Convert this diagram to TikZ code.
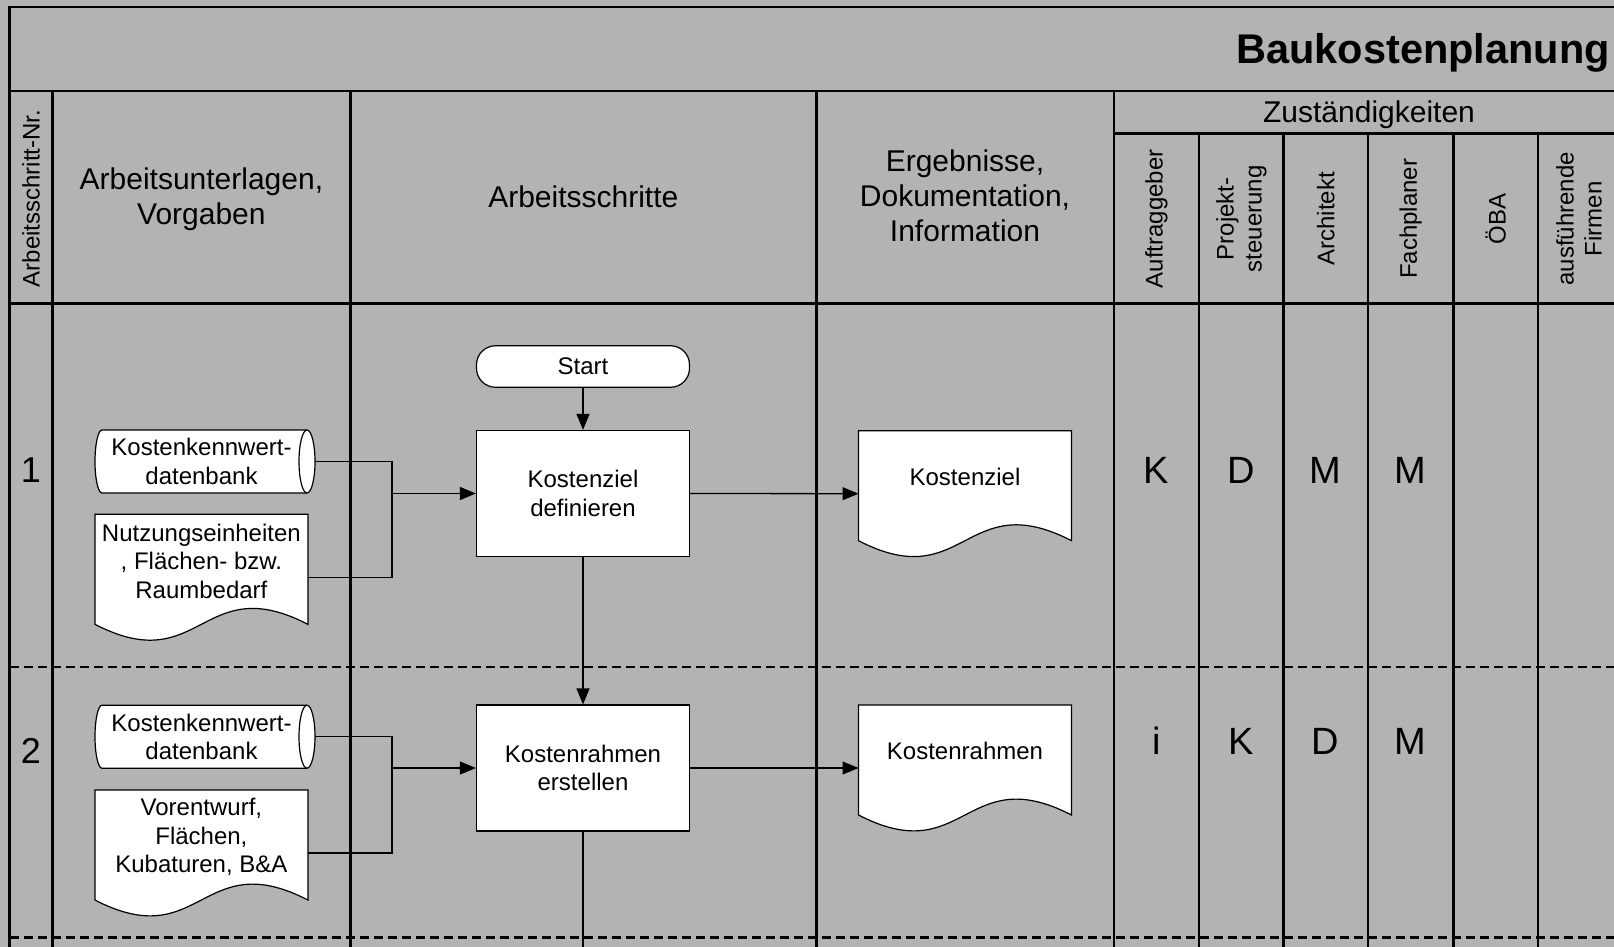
\documentclass[tikz,border=0pt]{standalone}
\usepackage{fontspec}
\setmainfont{Liberation Sans}
\usetikzlibrary{arrows.meta,calc}

\definecolor{sheetgray}{RGB}{179,179,179}

\tikzset{
  grid/.style={line width=2.7pt},
  rowsep/.style={line width=2.4pt, dash pattern=on 9.5pt off 4.5pt},
  flow/.style={line width=1.3pt},
  arr/.style={flow, -{Triangle[length=16pt,width=13pt]}},
  txt/.style={font=\fontsize{24}{28.5}\selectfont, align=center, inner sep=0pt},
  head/.style={font=\fontsize{30}{35}\selectfont, align=center, inner sep=0pt},
  colhead/.style={font=\fontsize{24}{28}\selectfont, align=center, inner sep=0pt, rotate=90},
  resp/.style={font=\fontsize{38}{40}\selectfont, inner sep=0pt},
  rownum/.style={font=\fontsize{36}{40}\selectfont, inner sep=0pt},
  process/.style={draw, fill=white, line width=1.2pt, minimum width=213pt, minimum height=126pt, txt},
  terminal/.style={draw, fill=white, line width=1.2pt, rounded corners=19pt, minimum width=213pt, minimum height=41.5pt, txt},
  docframe/.style={minimum width=213pt, minimum height=126pt, inner sep=0pt, outer sep=0pt},
  drumframe/.style={minimum width=220pt, minimum height=63pt, inner sep=0pt, outer sep=0pt},
  outline/.style={draw, fill=white, line width=1.2pt},
}

% document symbol: straight top and sides, wavy bottom edge
\newcommand\docoutline[1]{%
  \path[outline] (#1.north west) -- (#1.north east) -- ($(#1.south east)+(0,-16)$)
    .. controls ($(#1.south)+(0,-71)$) and ($(#1.south)+(0,39)$) .. ($(#1.south west)+(0,-16)$)
    -- cycle;}

% horizontal drum (data base) symbol
\newcommand\drumoutline[1]{%
  \path[outline] ($(#1.north west)+(7,0)$) -- ($(#1.north east)+(-8,0)$)
    arc[start angle=90, end angle=-90, x radius=8pt, y radius=31.5pt]
    -- ($(#1.south west)+(7,0)$)
    arc[start angle=270, end angle=90, x radius=7pt, y radius=31.5pt] -- cycle;
  \draw[line width=1.2pt] ($(#1.north east)+(-8,0)$)
    arc[start angle=90, end angle=270, x radius=8pt, y radius=31.5pt];}

\begin{document}
\begin{tikzpicture}[x=1pt, y=-1pt]
  \useasboundingbox (0,0) rectangle (1614,947);
  \fill[sheetgray] (0,0) rectangle (1614,947);
  \clip (0,0) rectangle (1614,947);

  % ---- table frame ----
  \draw[grid] (9.5,960) -- (9.5,7) -- (1630,7);
  \draw[grid] (9.5,91) -- (1630,91);
  \draw[grid] (9.5,303.7) -- (1630,303.7);
  \foreach \cx in {52.5,350.3,816.3,1114}
    \draw[grid] (\cx,91) -- (\cx,960);
  \draw[grid] (1114,133.7) -- (1630,133.7);
  \foreach \cx in {1199.1,1283.5,1368,1453.4,1538}
    \draw[grid] (\cx,133.7) -- (\cx,960);
  \draw[rowsep] (9.5,667) -- (1630,667);
  \draw[rowsep] (9.5,937.5) -- (1630,937.5);

  % ---- headings ----
  \node[font=\fontsize{41.5}{48}\selectfont\bfseries, anchor=base east, inner sep=0pt] (title) at (1610,64) {Baukostenplanung};
  \node[colhead] (hnr) at (31,198.5) {Arbeitsschritt-Nr.};
  \node[head] (hin) at (201.4,199) {Arbeitsunterlagen,\\Vorgaben};
  \node[head] (hsteps) at (583.3,197) {Arbeitsschritte};
  \node[head] (hout) at (965,195.6) {Ergebnisse,\\Dokumentation,\\Information};
  \node[head] (hresp) at (1369,115) {Zuständigkeiten};
  \node[colhead] (hag) at (1156.5,218.7) {Auftraggeber};
  \node[colhead] (hps) at (1241.3,218.7) {Projekt-\\steuerung};
  \node[colhead] (har) at (1325.7,218.7) {Architekt};
  \node[colhead] (hfp) at (1410.7,218.7) {Fachplaner};
  \node[colhead] (hoe) at (1495.7,218.7) {ÖBA};
  \node[colhead] (hfi) at (1579,218.7) {ausführende\\Firmen};

  % ---- step 1 ----
  \node[rownum] (n1) at (31,470.4) {1};
  \node[terminal] (start) at (583,366.5) {Start};
  \node[process] (box1) at (583,493.5) {Kostenziel\\definieren};

  \node[drumframe] (db1) at (205,461.5) {};
  \drumoutline{db1}
  \node[txt] (db1t) at ($(db1.center)+(-3.5,0)$) {Kostenkennwert-\\datenbank};

  \node[docframe] (nd1) at (201.4,577.3) {};
  \docoutline{nd1}
  \node[txt] (nd1t) at ($(nd1.north)+(0,47)$) {Nutzungseinheiten\\, Flächen- bzw.\\Raumbedarf};

  \node[docframe] (kz) at (965,493.7) {};
  \docoutline{kz}
  \node[txt] (kzt) at ($(kz.north)+(0,46)$) {Kostenziel};

  \coordinate (j1) at (392,0);
  \draw[flow] (db1.east) -| (j1 |- nd1.east) -- (nd1.east);
  \draw[arr] (j1 |- box1.west) -- (box1.west);
  \draw[arr] (start.south) -- (box1.north);
  \draw[arr] (box1.east) -- (kz.west);

  \node[resp] (r1ag) at (1156.5,470.4) {K};
  \node[resp] (r1ps) at (1241.3,470.4) {D};
  \node[resp] (r1ar) at (1325.7,470.4) {M};
  \node[resp] (r1fp) at (1410.7,470.4) {M};

  % ---- step 2 ----
  \node[rownum] (n2) at (31,751.4) {2};
  \node[process] (box2) at (583,768) {Kostenrahmen\\erstellen};

  \node[drumframe] (db2) at (205,736.7) {};
  \drumoutline{db2}
  \node[txt] (db2t) at ($(db2.center)+(-3.5,0)$) {Kostenkennwert-\\datenbank};

  \node[docframe] (nd2) at (201.4,853) {};
  \docoutline{nd2}
  \node[txt] (nd2t) at ($(nd2.north)+(0,47)$) {Vorentwurf,\\Flächen,\\Kubaturen, B\&A};

  \node[docframe] (kr) at (965,768) {};
  \docoutline{kr}
  \node[txt] (krt) at ($(kr.north)+(0,46)$) {Kostenrahmen};

  \draw[flow] (db2.east) -| (j1 |- nd2.east) -- (nd2.east);
  \draw[arr] (j1 |- box2.west) -- (box2.west);
  \draw[arr] (box1.south) -- (box2.north);
  \draw[arr] (box2.east) -- (kr.west);
  \coordinate (next) at (583,960);
  \draw[flow] (box2.south) -- (next);

  \node[resp] (r2ag) at (1156.5,741) {i};
  \node[resp] (r2ps) at (1241.3,741) {K};
  \node[resp] (r2ar) at (1325.7,741) {D};
  \node[resp] (r2fp) at (1410.7,741) {M};
\end{tikzpicture}
\end{document}
